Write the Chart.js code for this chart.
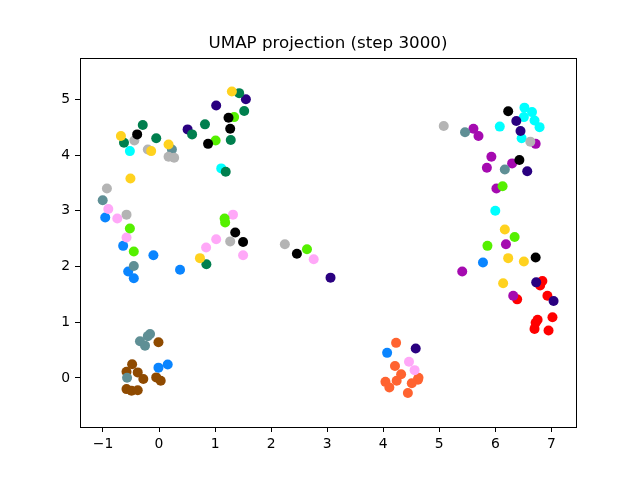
<!DOCTYPE html>
<html>
<head>
<meta charset="utf-8">
<script src="https://cdn.jsdelivr.net/npm/chart.js@4"></script>
<style>
html,body{margin:0;padding:0;background:#fff;}
canvas{display:block;}
</style>
</head>
<body>
<canvas id="c" width="640" height="480"></canvas>
<script>
// ---- data ----
const titleText = "UMAP projection (step 3000)";
const xTicks = [-1, 0, 1, 2, 3, 4, 5, 6, 7];
const yTicks = [0, 1, 2, 3, 4, 5];
const xRange = [-1.41, 7.44];
const yRange = [-0.88, 5.74];

const gold = [[1.30,5.14],[-0.68,4.34],[-0.14,4.07],[0.17,4.19],[-0.51,3.58],[0.73,2.15],[6.17,2.665],[6.23,2.15],[6.51,2.09],[6.14,1.70]];
const green = [[1.43,5.11],[1.52,4.79],[0.82,4.55],[0.59,4.37],[1.28,4.27],[-0.29,4.54],[-0.625,4.22],[-0.05,4.30],[1.19,3.70],[0.845,2.04]];
const navy = [[1.55,5.00],[1.02,4.89],[0.51,4.46],[3.06,1.80],[4.58,0.53],[6.375,4.61],[6.45,4.43],[6.57,3.71],[6.73,1.715],[7.04,1.38]];
const black = [[1.24,4.67],[1.27,4.47],[0.875,4.20],[-0.39,4.37],[1.36,2.61],[1.50,2.44],[2.46,2.23],[6.23,4.785],[6.43,3.91],[6.72,2.16]];
const lime = [[1.34,4.68],[1.01,4.26],[-0.52,2.68],[-0.45,2.27],[1.17,2.86],[1.18,2.79],[2.64,2.31],[6.13,3.44],[6.345,2.53],[5.86,2.37]];
const silver = [[-0.44,4.26],[-0.20,4.10],[0.17,3.97],[0.27,3.95],[-0.93,3.40],[-0.58,2.93],[1.27,2.45],[2.245,2.40],[5.08,4.52],[6.625,4.24]];
const teal = [[0.23,4.10],[-1.005,3.19],[-0.45,2.01],[-0.16,0.79],[-0.20,0.75],[-0.34,0.66],[-0.25,0.58],[-0.57,0.005],[5.46,4.41],[6.17,3.74]];
const cyan = [[-0.52,4.07],[1.11,3.76],[6.08,4.51],[6.52,4.85],[6.655,4.77],[6.51,4.68],[6.70,4.62],[6.79,4.50],[6.47,4.30],[6.00,3.00]];
const pink = [[-0.905,3.03],[-0.745,2.86],[-0.58,2.52],[0.84,2.34],[1.02,2.49],[1.50,2.20],[1.32,2.93],[2.76,2.13],[4.46,0.29],[4.56,0.14]];
const blue = [[-0.96,2.88],[-0.64,2.37],[-0.10,2.20],[-0.55,1.91],[-0.45,1.79],[0.375,1.94],[-0.01,0.185],[0.155,0.24],[4.07,0.45],[5.78,2.07]];
const brown = [[-0.01,0.64],[-0.48,0.245],[-0.58,0.11],[-0.38,0.10],[-0.28,-0.02],[-0.05,0.01],[0.03,-0.05],[-0.58,-0.20],[-0.49,-0.23],[-0.38,-0.22]];
const orange = [[4.23,0.63],[4.21,0.215],[4.32,0.065],[4.24,-0.05],[4.63,0.005],[4.62,-0.03],[4.51,-0.095],[4.04,-0.07],[4.11,-0.17],[4.44,-0.27]];
const magenta = [[5.61,4.47],[5.70,4.34],[6.72,4.20],[5.93,3.97],[5.85,3.77],[6.30,3.85],[6.02,3.40],[6.19,2.40],[5.41,1.91],[6.32,1.475]];
const red = [[6.84,1.74],[6.80,1.66],[6.39,1.41],[6.93,1.475],[7.02,1.09],[6.755,1.045],[6.72,0.99],[6.70,0.88],[6.95,0.85]];

const classes = [
  {name:"gold", pts:gold, color:"#FFD21F"},
  {name:"green", pts:green, color:"#007F4E"},
  {name:"navy", pts:navy, color:"#2A0080"},
  {name:"black", pts:black, color:"#000000"},
  {name:"lime", pts:lime, color:"#55F000"},
  {name:"silver", pts:silver, color:"#B4B4B4"},
  {name:"teal", pts:teal, color:"#5F8F95"},
  {name:"cyan", pts:cyan, color:"#00FFFF"},
  {name:"pink", pts:pink, color:"#FFA8F8"},
  {name:"blue", pts:blue, color:"#0A85FF"},
  {name:"brown", pts:brown, color:"#8F4A00"},
  {name:"orange", pts:orange, color:"#FF6330"},
  {name:"magenta", pts:magenta, color:"#A50AB0"},
  {name:"red", pts:red, color:"#FF0000"}
];

const font = "'DejaVu Sans', sans-serif";

const frame = {
  id: "frame",
  afterDraw(chart) {
    const a = chart.chartArea, ctx = chart.ctx;
    ctx.save();
    ctx.strokeStyle = "#000";
    ctx.lineWidth = 1;
    ctx.strokeRect(Math.round(a.left) + 0.5, Math.round(a.top) + 0.5,
                   Math.round(a.right - a.left), Math.round(a.bottom - a.top));
    ctx.restore();
  }
};

new Chart(document.getElementById("c"), {
  type: "scatter",
  data: {
    datasets: classes.map(c => ({
      label: c.name,
      data: c.pts.map(p => ({x: p[0], y: p[1]})),
      backgroundColor: c.color,
      borderWidth: 0,
      pointRadius: 5,
      pointHoverRadius: 5
    }))
  },
  options: {
    responsive: false,
    animation: false,
    devicePixelRatio: 1,
    layout: {padding: {left: 16, right: 0, top: 0, bottom: 0}},
    plugins: {
      legend: {display: false},
      tooltip: {enabled: false},
      title: {
        display: true,
        text: titleText,
        color: "#000",
        font: {family: font, size: 16.7, weight: "normal", lineHeight: 1.2},
        padding: {top: 34, bottom: 4}
      }
    },
    scales: {
      x: {
        type: "linear",
        min: xRange[0], max: xRange[1],
        afterBuildTicks: s => { s.ticks = xTicks.map(v => ({value: v})); },
        afterFit: s => { s.height = 53; },
        grid: {display: true, drawOnChartArea: false, drawTicks: true, tickLength: 5, color: "#000"},
        border: {display: true, color: "#000"},
        ticks: {color: "#000", font: {family: font, size: 13.9}, padding: 4, maxRotation: 0,
                callback: v => String(v).replace("-", "\u2212")}
      },
      y: {
        type: "linear",
        min: yRange[0], max: yRange[1],
        afterBuildTicks: s => { s.ticks = yTicks.map(v => ({value: v})); },
        afterFit: s => { s.width = 64; },
        grid: {display: true, drawOnChartArea: false, drawTicks: true, tickLength: 5, color: "#000"},
        border: {display: true, color: "#000"},
        ticks: {color: "#000", font: {family: font, size: 13.9}, padding: 5,
                callback: v => String(v).replace("-", "\u2212")}
      },
      yRightSpacer: {
        type: "linear",
        position: "right",
        min: yRange[0], max: yRange[1],
        afterFit: s => { s.width = 64; },
        grid: {display: false},
        border: {display: false},
        ticks: {display: false}
      }
    }
  },
  plugins: [frame]
});
</script>
</body>
</html>
